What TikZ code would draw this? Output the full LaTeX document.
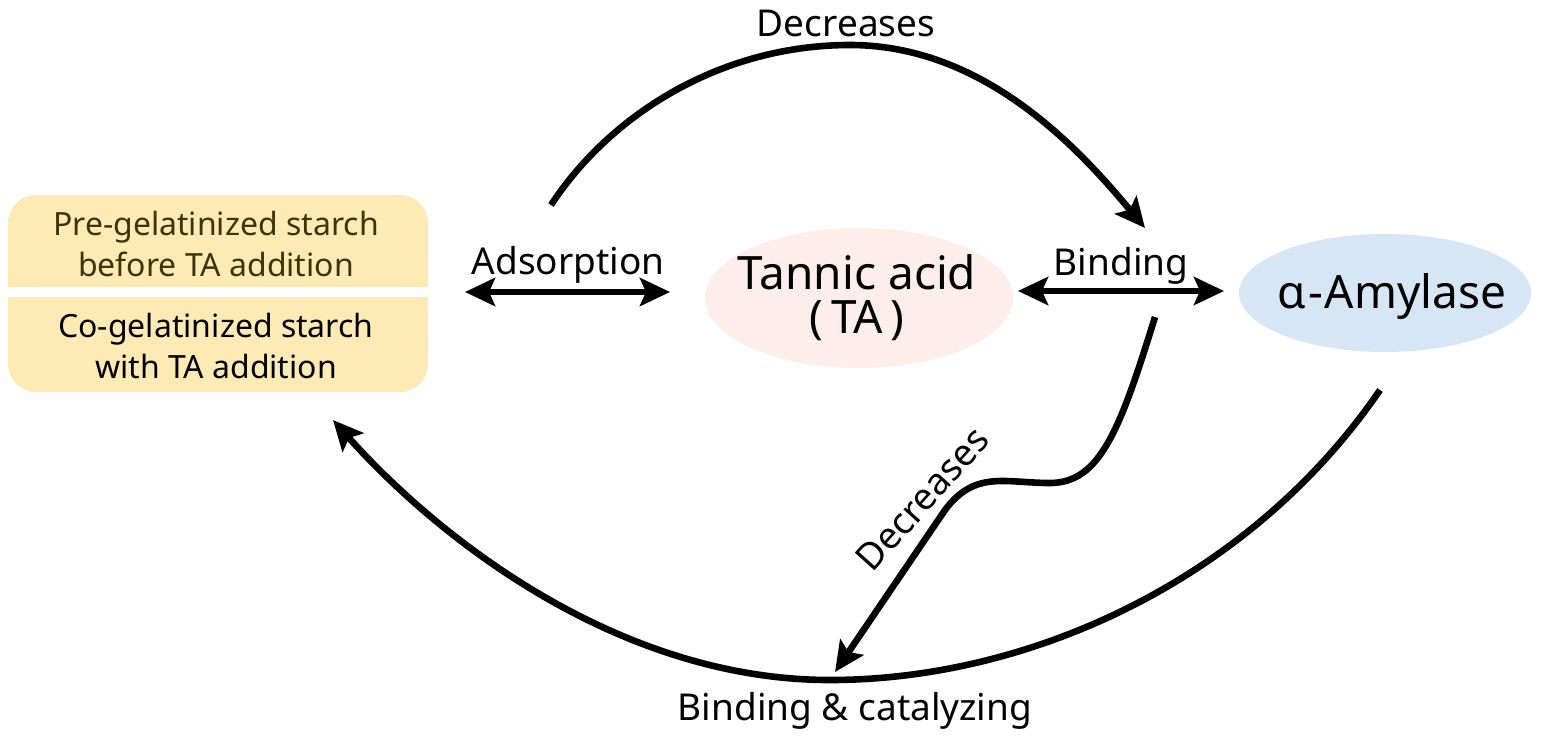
\documentclass[tikz,border=0pt]{standalone}
\usepackage{fontspec}
\setmainfont{Noto Sans}
\usetikzlibrary{arrows.meta,shapes.geometric}
\definecolor{boxY}{RGB}{254,234,180}
\definecolor{taPink}{RGB}{253,238,236}
\definecolor{amyBlue}{RGB}{214,230,244}
\definecolor{oliveT}{RGB}{62,52,12}
\begin{document}
\begin{tikzpicture}[x=0.5pt,y=-0.5pt,
  tip/.tip={Stealth[length=15pt,width=14pt,inset=3pt]},
  conn/.style={line width=3.3pt,-tip},
  dbl/.style={line width=3.3pt,tip-tip},
  lbl/.style={font=\fontsize{18.5}{22}\selectfont,inner sep=0pt},
  boxtext/.style={font=\fontsize{16}{20.5}\selectfont,align=center,inner sep=0pt},
  bigtext/.style={font=\fontsize{23}{22}\selectfont,align=center,inner sep=0pt},
  blob/.style={ellipse,inner sep=0pt,draw=none}
]
\useasboundingbox[fill=white] (0,0) rectangle (1543,735);
% starch boxes
\fill[boxY,rounded corners=14pt] (8,195) rectangle (428,287);
\fill[boxY] (8,240) rectangle (428,287);
\fill[boxY,rounded corners=14pt] (8,297) rectangle (428,392);
\fill[boxY] (8,297) rectangle (428,340);
\node[boxtext,text=oliveT] (pre) at (216,244) {Pre-gelatinized starch\\before TA addition};
\node[boxtext] (co) at (216,346) {Co-gelatinized starch\\with TA addition};
% ellipses
\node[blob,fill=taPink,minimum width=154pt,minimum height=70pt] (ta) at (859,298) {};
\node[bigtext] (tatext) at (857,298) {Tannic acid\\(\,TA\,)};
\node[blob,fill=amyBlue,minimum width=146pt,minimum height=59pt] (amy) at (1385,293) {};
\node[bigtext,anchor=base] (amytext) at (1392,308) {α\kern1pt-\kern1pt Amylase};
% coordinates
\coordinate (adsL) at (465,292);
\coordinate (adsR) at (670,292);
\coordinate (binL) at (1018,291);
\coordinate (binR) at (1224,291);
\coordinate (topS) at (551,205);
\coordinate (topE) at (1145,228);
\coordinate (botS) at (1380,390);
\coordinate (botE) at (333,420);
\coordinate (sS) at (1155,317);
\coordinate (sE) at (835,672);
% arrows
\draw[dbl] (adsL) -- (adsR);
\draw[dbl] (binL) -- (binR);
\draw[conn] (topS) .. controls (610,115) and (720,45) .. (850,45) .. controls (985,45) and (1080,150) .. (topE);
\draw[conn] (botS) .. controls (1250,580) and (1030,680) .. (830,680) .. controls (620,680) and (440,540) .. (botE);
\draw[conn] (sS) .. controls (1120,430) and (1100,483) .. (1050,483) .. controls (1005,483) and (975,470) .. (945,510) -- (sE);
% labels
\node[lbl,anchor=base] (ldec1) at (846,36) {Decreases};
\node[lbl,anchor=base] (lads) at (568,274) {Adsorption};
\node[lbl,anchor=base] (lbin) at (1121,275) {Binding};
\node[lbl,anchor=base] (lcat) at (855,720) {Binding \& catalyzing};
\node[lbl,rotate=48] (ldec2) at (922,499) {Decreases};
\end{tikzpicture}
\end{document}
